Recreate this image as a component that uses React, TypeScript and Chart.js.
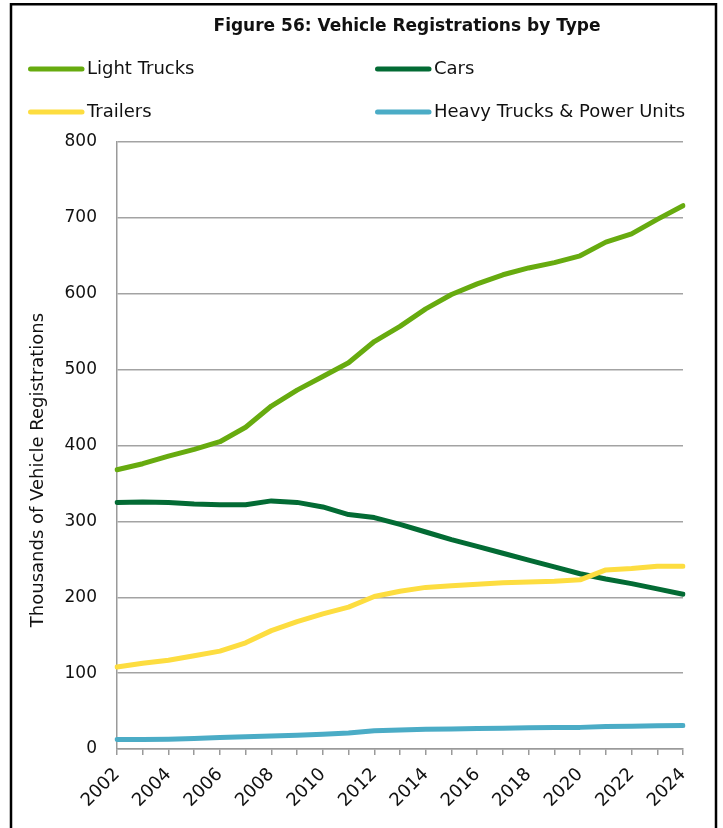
import React, { useEffect, useRef } from "react";
import { Chart, registerables } from "chart.js";

Chart.register(...registerables);

const years = ["2002","2003","2004","2005","2006","2007","2008","2009","2010","2011","2012","2013","2014","2015","2016","2017","2018","2019","2020","2021","2022","2023","2024"];
const lightTrucks = [368, 376, 386, 395, 405, 424, 452, 473, 491, 509, 537, 557, 580, 599, 613, 625, 634, 641, 650, 668, 679, 698, 716];
const cars = [325, 325.5, 325, 323, 322, 322, 327, 325, 319, 309, 305, 296, 286, 276, 267, 258, 249, 240, 231, 224, 218, 211, 204];
const trailers = [108, 113, 117, 123, 129, 140, 156, 168, 178, 187, 201, 208, 213, 215, 217, 219, 220, 221, 223, 236, 238, 241, 241];
const heavyTrucks = [12.5, 12.6, 13, 14, 15, 16, 17, 18, 19.5, 21, 24, 25, 26, 26.5, 27, 27.5, 28, 28.5, 28.5, 29.5, 30, 30.5, 31];

const seriesNames = ["Light Trucks", "Cars", "Trailers", "Heavy Trucks & Power Units"];
const seriesColors = ["#67AB0F", "#036B34", "#FDDD40", "#4BACC6"];
const titleText = "Figure 56: Vehicle Registrations by Type";
const yTitleText = "Thousands of Vehicle Registrations";
const yMin = 0;
const yMax = 800;
const yStep = 100;

const FONT = '"DejaVu Sans", sans-serif';

const decorPlugin = {
  id: "decor",
  beforeDraw(chart: any) {
    const ctx = chart.ctx;
    ctx.save();
    ctx.fillStyle = "#ffffff";
    ctx.fillRect(0, 0, chart.width, chart.height);
    ctx.restore();
  },
  afterDraw(chart: any) {
    const ctx = chart.ctx;
    ctx.save();
    // frame
    ctx.strokeStyle = "#000000";
    ctx.lineWidth = 2.5;
    ctx.strokeRect(11, 4.25, 705, 900);
    // title
    ctx.fillStyle = "#111111";
    ctx.font = "bold 17px " + FONT;
    ctx.textAlign = "center";
    ctx.textBaseline = "middle";
    ctx.fillText(titleText, 407, 27);
    // legend
    const pos = [[28, 69], [375, 69], [28, 112], [375, 112]];
    ctx.font = "18px " + FONT;
    ctx.textAlign = "left";
    for (let i = 0; i < seriesNames.length; i++) {
      const [x, y] = pos[i];
      ctx.strokeStyle = seriesColors[i];
      ctx.lineWidth = 5;
      ctx.lineCap = "round";
      ctx.beginPath();
      ctx.moveTo(x + 2.5, y);
      ctx.lineTo(x + 54, y);
      ctx.stroke();
      ctx.fillStyle = "#111111";
      ctx.fillText(seriesNames[i], x + 59, y);
    }
    // y title
    ctx.translate(38, 470);
    ctx.rotate(-Math.PI / 2);
    ctx.textAlign = "center";
    ctx.textBaseline = "middle";
    ctx.font = "18px " + FONT;
    ctx.fillText(yTitleText, 0, 0);
    ctx.restore();
  },
};

export default function App() {
  const canvasRef = useRef<HTMLCanvasElement | null>(null);

  useEffect(() => {
    const canvas = canvasRef.current;
    if (!canvas) return;
    const data = [lightTrucks, cars, trailers, heavyTrucks];
    const orders = [3, 2, 1, 0];
    const chart = new Chart(canvas, {
      type: "line",
      data: {
        labels: years,
        datasets: data.map((d, i) => ({
          label: seriesNames[i],
          data: d,
          borderColor: seriesColors[i],
          backgroundColor: seriesColors[i],
          borderWidth: 5,
          pointRadius: 0,
          tension: 0,
          borderCapStyle: "round",
          borderJoinStyle: "round",
          order: orders[i],
          fill: false,
        })),
      },
      options: {
        responsive: false,
        animation: false,
        devicePixelRatio: 1,
        layout: { padding: { top: 142, left: 0, right: 40, bottom: 0 } },
        plugins: {
          legend: { display: false },
          title: { display: false },
          tooltip: { enabled: false },
        },
        scales: {
          x: {
            type: "category",
            offset: false,
            grid: {
              display: true,
              drawOnChartArea: false,
              drawTicks: true,
              tickLength: 6,
              color: "#9a9a9a",
              lineWidth: 1.5,
            },
            border: { display: true, color: "#9a9a9a", width: 1.5 },
            ticks: {
              autoSkip: false,
              maxRotation: 45,
              minRotation: 45,
              padding: 9,
              color: "#111111",
              font: { family: FONT, size: 18 },
              callback: (_v: any, idx: number) => (idx % 2 === 0 ? years[idx] : ""),
            },
            afterFit: (scale: any) => {
              scale.height = 79;
            },
          },
          y: {
            min: yMin,
            max: yMax,
            ticks: {
              stepSize: yStep,
              padding: 20,
              color: "#111111",
              font: { family: FONT, size: 17 },
            },
            grid: {
              color: "#a3a3a3",
              lineWidth: 1.5,
              drawTicks: false,
            },
            border: { display: true, color: "#9a9a9a", width: 1.5 },
            afterFit: (scale: any) => {
              scale.width = 117;
            },
          },
        },
      },
      plugins: [decorPlugin],
    });
    return () => chart.destroy();
  }, []);

  return (
    <div style={{ position: "absolute", left: 0, top: 0, width: 723, height: 828, overflow: "hidden", background: "#fff" }}>
      <canvas ref={canvasRef} width={723} height={828} style={{ display: "block", width: 723, height: 828 }} />
    </div>
  );
}
